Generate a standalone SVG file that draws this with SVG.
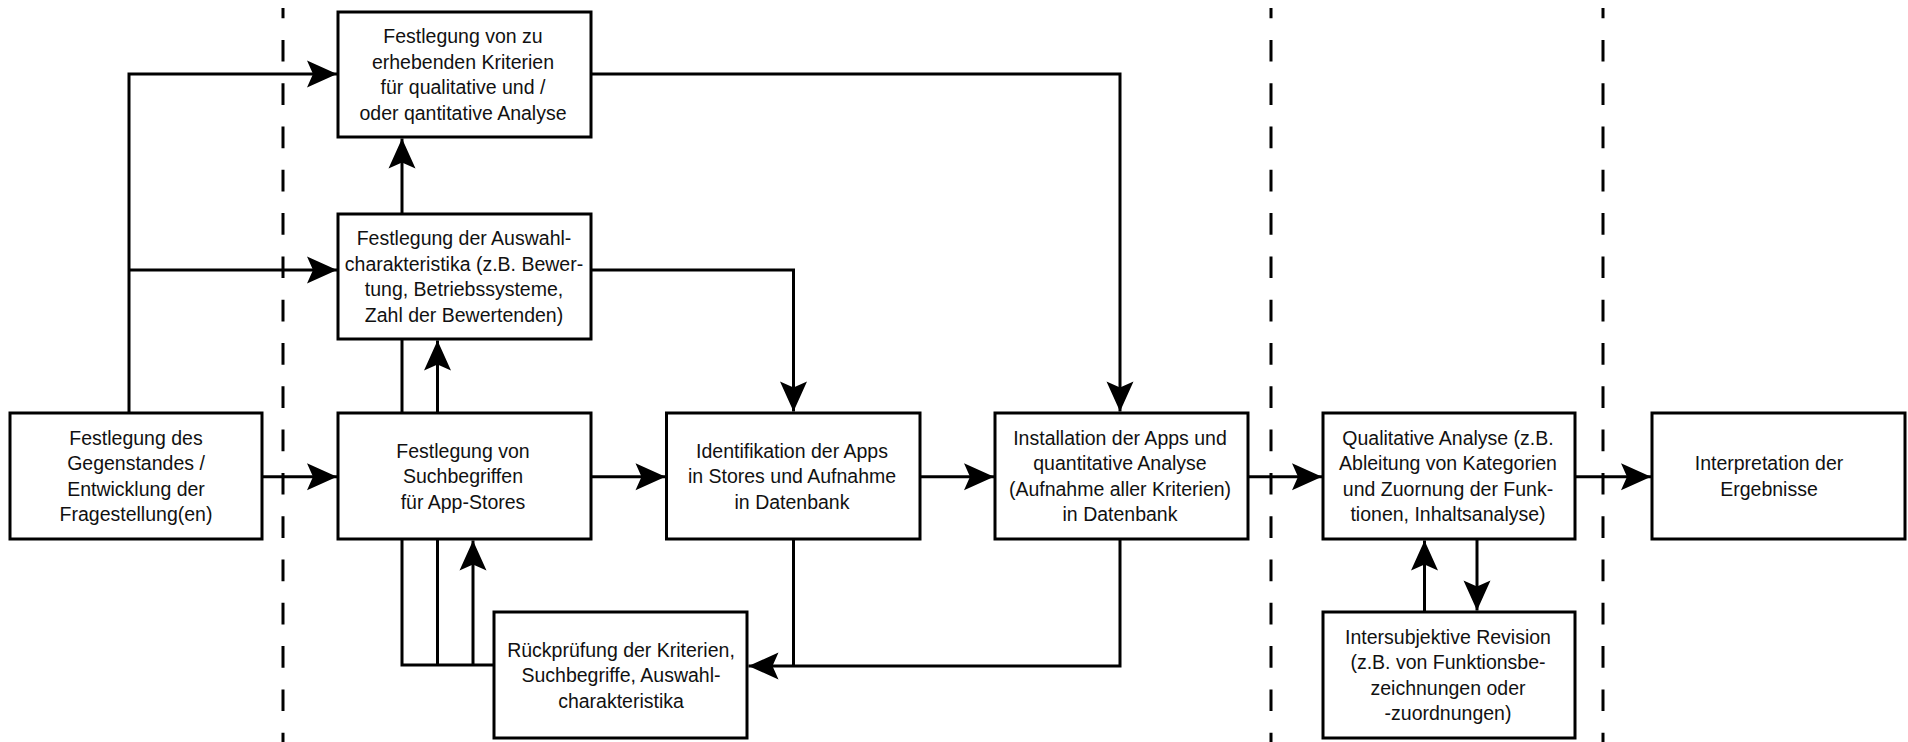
<svg xmlns="http://www.w3.org/2000/svg" width="1908" height="742" viewBox="0 0 1908 742">
<style>
.box{fill:#fff;stroke:#000;stroke-width:3}
.t{font-family:"Liberation Sans",Arial,sans-serif;font-size:19.5px;fill:#111;text-anchor:middle}
.c{fill:none;stroke:#000;stroke-width:3}
.a{marker-end:url(#ah)}
.d{stroke:#000;stroke-width:3;stroke-dasharray:21.7 21.6;stroke-dashoffset:11.4}
</style>
<defs>
<marker id="ah" markerUnits="userSpaceOnUse" markerWidth="31" markerHeight="28" refX="30" refY="13.5" orient="auto" overflow="visible">
<path d="M0,0 L30,13.5 L0,27 L6,13.5 Z" fill="#000"/>
</marker>
</defs>
<rect width="1908" height="742" fill="#fff"/>
<g id="separators">
<line class="d" x1="283" y1="8" x2="283" y2="742"/>
<line class="d" x1="1271" y1="8" x2="1271" y2="742"/>
<line class="d" x1="1603" y1="8" x2="1603" y2="742"/>
</g>
<g id="connectors">
<path class="c a" d="M129,413 V74 H337"/>
<path class="c a" d="M129,270 H337"/>
<path class="c a" d="M262,476.7 H337"/>
<path class="c a" d="M591,476.7 H665.5"/>
<path class="c a" d="M920,476.7 H994"/>
<path class="c a" d="M1248,476.7 H1322"/>
<path class="c a" d="M1575,476.7 H1651"/>
<path class="c a" d="M402,214 V138.5"/>
<path class="c" d="M402,413 V339"/>
<path class="c a" d="M437.5,413 V340.5"/>
<path class="c a" d="M591,74 H1120 V411.5"/>
<path class="c a" d="M591,270 H793.5 V411.5"/>
<path class="c" d="M402,539 V665 H494"/>
<path class="c" d="M437.5,539 V665"/>
<path class="c a" d="M473,665 V540.5"/>
<path class="c" d="M793.5,539 V666"/>
<path class="c a" d="M1120,539 V666 H748.5"/>
<path class="c a" d="M1424.5,612 V540.5"/>
<path class="c a" d="M1477,539 V610.5"/>
</g>
<g id="n-kriterien">
<rect class="box" x="338" y="12" width="253" height="125"/>
<text class="t" x="463" y="43.2">Festlegung von zu</text>
<text class="t" x="463" y="68.7">erhebenden Kriterien</text>
<text class="t" x="463" y="94.2">für qualitative und /</text>
<text class="t" x="463" y="119.7">oder qantitative Analyse</text>
</g>
<g id="n-auswahl">
<rect class="box" x="338" y="214" width="253" height="125"/>
<text class="t" x="464" y="245.2">Festlegung der Auswahl-</text>
<text class="t" x="464" y="270.7">charakteristika (z.B. Bewer-</text>
<text class="t" x="464" y="296.2">tung, Betriebssysteme,</text>
<text class="t" x="464" y="321.7">Zahl der Bewertenden)</text>
</g>
<g id="n-gegenstand">
<rect class="box" x="10" y="413" width="252" height="126"/>
<text class="t" x="136" y="444.7">Festlegung des</text>
<text class="t" x="136" y="470.2">Gegenstandes /</text>
<text class="t" x="136" y="495.7">Entwicklung der</text>
<text class="t" x="136" y="521.2">Fragestellung(en)</text>
</g>
<g id="n-suchbegriffe">
<rect class="box" x="338" y="413" width="253" height="126"/>
<text class="t" x="463" y="457.5">Festlegung von</text>
<text class="t" x="463" y="483">Suchbegriffen</text>
<text class="t" x="463" y="508.5">für App-Stores</text>
</g>
<g id="n-identifikation">
<rect class="box" x="666.5" y="413" width="253.5" height="126"/>
<text class="t" x="792" y="457.5">Identifikation der Apps</text>
<text class="t" x="792" y="483">in Stores und Aufnahme</text>
<text class="t" x="792" y="508.5">in Datenbank</text>
</g>
<g id="n-installation">
<rect class="box" x="995" y="413" width="253" height="126"/>
<text class="t" x="1120" y="444.7">Installation der Apps und</text>
<text class="t" x="1120" y="470.2">quantitative Analyse</text>
<text class="t" x="1120" y="495.7">(Aufnahme aller Kriterien)</text>
<text class="t" x="1120" y="521.2">in Datenbank</text>
</g>
<g id="n-qualitativ">
<rect class="box" x="1323" y="413" width="252" height="126"/>
<text class="t" x="1448" y="444.7">Qualitative Analyse (z.B.</text>
<text class="t" x="1448" y="470.2">Ableitung von Kategorien</text>
<text class="t" x="1448" y="495.7">und Zuornung der Funk-</text>
<text class="t" x="1448" y="521.2">tionen, Inhaltsanalyse)</text>
</g>
<g id="n-interpretation">
<rect class="box" x="1652" y="413" width="253" height="126"/>
<text class="t" x="1769" y="470.2">Interpretation der</text>
<text class="t" x="1769" y="495.7">Ergebnisse</text>
</g>
<g id="n-rueckpruefung">
<rect class="box" x="494" y="612" width="253" height="126"/>
<text class="t" x="621" y="656.5">Rückprüfung der Kriterien,</text>
<text class="t" x="621" y="682">Suchbegriffe, Auswahl-</text>
<text class="t" x="621" y="707.5">charakteristika</text>
</g>
<g id="n-revision">
<rect class="box" x="1323" y="612" width="252" height="126"/>
<text class="t" x="1448" y="643.7">Intersubjektive Revision</text>
<text class="t" x="1448" y="669.2">(z.B. von Funktionsbe-</text>
<text class="t" x="1448" y="694.7">zeichnungen oder</text>
<text class="t" x="1448" y="720.2">-zuordnungen)</text>
</g>
</svg>
